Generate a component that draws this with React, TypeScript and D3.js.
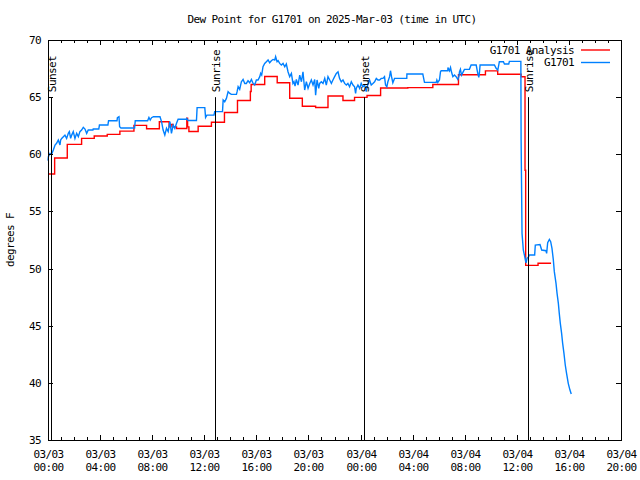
import React from 'react';
import * as d3 from 'd3';

const T0 = Date.UTC(2025, 2, 3, 0, 0, 0);
const hoursToDate = (h: number) => new Date(T0 + h * 3600000);

const chartTitle = 'Dew Point for G1701 on 2025-Mar-03 (time in UTC)';
const yAxisLabel = 'degrees F';
const yTickValues = [35, 40, 45, 50, 55, 60, 65, 70];
const xDomainHours = [0, 44];
const xMajorStepHours = 4;
const seriesNames = ['G1701 Analysis', 'G1701'];
const seriesColors = ['#ff0000', '#0080ff'];
const sunEventHours = [0.25, 12.83, 24.3, 36.83];
const sunEventLabels = ['Sunset', 'Sunrise', 'Sunset', 'Sunrise'];
const sunLineTopValue = 65;

// hourly analysis (step after), [hour since 03/03 00:00 UTC, degF]
const analysisSeries: [number, number][] = [
  [0, 58.27], [0.51, 59.67], [1.48, 60.87], [2.58, 61.39], [3.55, 61.6], [4.55, 61.74],
  [5.52, 62.03], [6.6, 62.53], [7.57, 62.24], [8.55, 62.85], [9.3, 62.4], [9.45, 62.6],
  [9.6, 62.4], [9.87, 62.25], [10.66, 63.15], [10.72, 62.4], [10.82, 62.0], [11.53, 62.45],
  [12.55, 62.8], [13.55, 63.65], [14.55, 64.7], [15.54, 65.5], [15.6, 66.1], [16.64, 66.8],
  [17.6, 66.26], [18.56, 64.9], [19.53, 64.2], [20.55, 64.1], [21.5, 65.1], [22.65, 64.7],
  [23.54, 64.98], [24.5, 65.15], [25.54, 65.8], [27.63, 65.83], [29.55, 66.1], [31.52, 66.96],
  [33.59, 67.3], [34.53, 67.0], [36.33, 66.79], [36.63, 58.6], [36.68, 50.28], [37.63, 50.46],
  [38.63, 50.46],
];

// station observations
const observedSeries: [number, number][] = [
  [0, 59.44], [0.03, 59.8], [0.15, 60.08], [0.28, 60.02], [0.41, 60.37], [0.54, 60.81],
  [0.66, 60.96], [0.79, 61.25], [0.92, 60.81], [0.97, 61.25], [1.05, 61.39], [1.18, 61.54],
  [1.3, 61.68], [1.43, 61.39], [1.56, 61.83], [1.64, 61.98], [1.74, 61.39], [1.82, 61.68],
  [1.94, 61.98], [2.07, 61.39], [2.2, 61.83], [2.33, 61.54], [2.45, 61.98], [2.58, 62.12],
  [2.71, 62.36], [2.84, 62.21], [2.97, 61.83], [3.09, 62.12], [3.45, 62.12], [3.47, 62.21],
  [3.9, 62.21], [3.95, 62.56], [4.6, 62.56], [4.65, 62.94], [5.3, 62.94], [5.33, 63.2],
  [5.45, 63.29], [5.5, 62.41], [5.6, 62.3], [6.65, 62.3], [6.7, 62.94], [7.65, 62.94],
  [7.75, 63.23], [7.85, 63.0], [7.95, 63.2], [8.1, 63.29], [8.6, 63.29], [8.72, 62.85],
  [8.84, 62.12], [8.97, 61.68], [9.1, 62.27], [9.23, 61.98], [9.36, 62.85], [9.48, 61.83],
  [9.61, 62.56], [9.74, 62.27], [9.87, 62.71], [9.99, 63.06], [10.6, 63.06], [10.65, 63.14],
  [10.76, 62.95], [11.4, 62.95], [11.45, 64.08], [12.04, 64.08], [12.1, 63.23], [12.2, 63.43],
  [12.75, 63.43], [12.8, 63.73], [13.4, 63.73], [13.45, 64.75], [13.57, 64.6], [13.7, 64.89],
  [13.83, 65.48], [13.96, 65.33], [14.08, 65.24], [14.47, 65.24], [14.52, 65.48], [14.6, 65.91],
  [14.72, 65.68], [14.85, 66.35], [14.98, 66.55], [15.11, 66.2], [15.23, 66.2], [15.36, 66.44],
  [15.49, 66.26], [15.62, 66.55], [15.75, 66.2], [15.87, 66.06], [16.0, 66.5], [16.13, 66.5],
  [16.26, 66.79], [16.33, 67.08], [16.41, 66.93], [16.51, 67.66], [16.64, 67.95], [16.77, 68.1],
  [16.9, 68.25], [17.02, 68.01], [17.15, 68.19], [17.28, 68.3], [17.41, 68.25], [17.48, 68.54],
  [17.59, 68.1], [17.67, 68.19], [17.79, 67.95], [17.92, 67.81], [18.05, 67.95], [18.18, 67.66],
  [18.3, 67.9], [18.43, 67.22], [18.56, 66.79], [18.69, 67.08], [18.81, 66.2], [18.89, 66.35],
  [18.97, 65.97], [19.07, 66.55], [19.2, 66.06], [19.33, 66.93], [19.46, 66.35], [19.58, 67.22],
  [19.71, 65.62], [19.84, 66.35], [19.97, 65.77], [20.1, 66.2], [20.22, 66.5], [20.35, 66.06],
  [20.48, 66.55], [20.55, 65.18], [20.66, 66.5], [20.79, 65.77], [20.86, 66.2], [20.99, 66.35],
  [21.12, 66.2], [21.25, 66.64], [21.37, 66.06], [21.5, 66.79], [21.63, 66.5], [21.76, 66.2],
  [21.88, 66.5], [22.01, 66.79], [22.14, 67.08], [22.27, 67.22], [22.39, 66.64], [22.52, 66.35],
  [22.65, 66.5], [22.78, 66.2], [22.91, 66.06], [23.03, 66.2], [23.16, 65.91], [23.29, 66.35],
  [23.42, 66.06], [23.54, 65.91], [23.62, 65.33], [23.67, 65.77], [23.8, 66.06], [23.93, 65.77],
  [24.05, 66.2], [24.18, 65.91], [24.31, 66.06], [24.44, 65.48], [24.57, 66.2], [24.69, 66.5],
  [24.82, 66.06], [24.95, 66.2], [25.08, 66.35], [25.21, 66.64], [25.34, 66.5], [25.46, 66.5],
  [25.59, 66.64], [25.72, 66.64], [25.84, 66.79], [25.92, 66.06], [26.02, 65.91], [26.1, 66.35],
  [26.23, 66.79], [26.3, 67.31], [26.38, 66.79], [26.48, 66.26], [26.61, 66.64], [27.55, 66.64],
  [27.56, 67.02], [28.78, 67.02], [28.91, 66.29], [29.81, 66.29], [29.86, 66.5], [29.93, 66.29],
  [30.06, 66.5], [30.14, 67.22], [30.19, 67.31], [30.7, 67.31], [30.71, 67.6], [30.83, 67.31],
  [30.91, 67.6], [30.98, 67.22], [31.09, 66.79], [31.21, 66.93], [31.34, 66.79], [31.47, 66.55],
  [31.55, 66.79], [31.6, 67.22], [31.67, 67.43], [31.75, 66.93], [31.85, 67.14], [31.98, 67.43],
  [32.36, 67.43], [32.49, 67.81], [32.88, 67.81], [33.0, 67.08], [33.08, 66.73], [33.13, 67.14],
  [33.18, 67.81], [34.28, 67.81], [34.41, 67.52], [34.54, 67.37], [34.66, 68.1], [34.97, 68.1],
  [35.05, 67.9], [35.38, 67.9], [35.43, 68.13], [36.31, 68.13], [36.33, 61.25], [36.4, 53.08],
  [36.5, 51.62], [36.58, 51.19], [36.66, 50.75], [36.71, 50.5], [36.79, 50.9], [36.91, 51.04],
  [36.96, 51.19], [37.37, 51.19], [37.42, 52.06], [37.78, 52.1], [37.91, 51.62], [38.24, 51.56],
  [38.29, 51.33], [38.37, 52.26], [38.5, 52.55], [38.6, 52.35], [38.7, 51.77], [38.8, 50.8],
  [38.88, 49.73], [39.01, 48.7], [39.09, 47.83], [39.19, 46.96], [39.26, 46.08], [39.34, 45.21],
  [39.44, 44.33], [39.52, 43.46], [39.62, 42.58], [39.72, 41.56], [39.82, 40.83], [39.95, 39.96],
  [40.08, 39.37], [40.18, 39.02],
];

const W = 640;
const H = 480;
const M = { left: 48, right: 621, top: 40, bottom: 440 };
const FONT = "'DejaVu Sans Mono', monospace";

export default function App() {
  const x = d3
    .scaleUtc()
    .domain([hoursToDate(xDomainHours[0]), hoursToDate(xDomainHours[1])])
    .range([M.left, M.right]);
  const y = d3.scaleLinear().domain([35, 70]).range([M.bottom, M.top]);

  const majorTicks = x.ticks(d3.utcHour.every(xMajorStepHours) as any);
  const minorTicks = x.ticks(d3.utcHour.every(1) as any);
  const fmtDate = d3.utcFormat('%m/%d');
  const fmtTime = d3.utcFormat('%H:%M');

  const redLine = d3
    .line<[number, number]>()
    .x((d) => x(hoursToDate(d[0])))
    .y((d) => y(d[1]))
    .curve(d3.curveStepAfter);
  const blueLine = d3
    .line<[number, number]>()
    .x((d) => x(hoursToDate(d[0])))
    .y((d) => y(d[1]));

  const textProps = { fontFamily: FONT, fontSize: 11, letterSpacing: -0.6, fill: '#000' } as any;

  return (
    <svg
      width={W}
      height={H}
      style={{ position: 'absolute', left: 0, top: 0, background: '#fff' }}
    >
      <rect x={0} y={0} width={W} height={H} fill="#fff" />
      <text {...textProps} x={332} y={19} textAnchor="middle" dominantBaseline="central">
        {chartTitle}
      </text>

      {/* data */}
      <path d={redLine(analysisSeries) || ''} fill="none" stroke={seriesColors[0]} strokeWidth={1.4} />
      <path d={blueLine(observedSeries) || ''} fill="none" stroke={seriesColors[1]} strokeWidth={1.4} />

      {/* sun events */}
      {sunEventHours.map((h, i) => {
        const xx = Math.round(x(hoursToDate(h))) + 0.5;
        const top = y(sunLineTopValue);
        return (
          <g key={'sun' + i}>
            <line x1={xx} x2={xx} y1={M.bottom} y2={top} stroke="#000" strokeWidth={1} />
            <text
              {...textProps}
              transform={`translate(${xx + 1},${top - 5}) rotate(-90)`}
              dominantBaseline="central"
              textAnchor="start"
            >
              {sunEventLabels[i]}
            </text>
          </g>
        );
      })}

      {/* border */}
      <rect
        x={M.left + 0.5}
        y={M.top + 0.5}
        width={M.right - M.left}
        height={M.bottom - M.top}
        fill="none"
        stroke="#000"
        strokeWidth={1}
        shapeRendering="crispEdges"
      />

      {/* x ticks */}
      {minorTicks.map((t, i) => {
        const xx = Math.round(x(t)) + 0.5;
        return (
          <g key={'mn' + i} shapeRendering="crispEdges">
            <line x1={xx} x2={xx} y1={M.bottom} y2={M.bottom - 3} stroke="#000" />
            <line x1={xx} x2={xx} y1={M.top} y2={M.top + 3} stroke="#000" />
          </g>
        );
      })}
      {majorTicks.map((t, i) => {
        const xx = Math.round(x(t)) + 0.5;
        return (
          <g key={'mj' + i}>
            <line x1={xx} x2={xx} y1={M.bottom} y2={M.bottom - 5} stroke="#000" shapeRendering="crispEdges" />
            <line x1={xx} x2={xx} y1={M.top} y2={M.top + 5} stroke="#000" shapeRendering="crispEdges" />
            <text {...textProps} x={xx} y={454} textAnchor="middle" dominantBaseline="central">
              {fmtDate(t)}
            </text>
            <text {...textProps} x={xx} y={467} textAnchor="middle" dominantBaseline="central">
              {fmtTime(t)}
            </text>
          </g>
        );
      })}

      {/* y ticks */}
      {yTickValues.map((v, i) => {
        const yy = Math.round(y(v)) + 0.5;
        return (
          <g key={'yt' + i}>
            <line x1={M.left} x2={M.left + 5} y1={yy} y2={yy} stroke="#000" shapeRendering="crispEdges" />
            <line x1={M.right} x2={M.right - 5} y1={yy} y2={yy} stroke="#000" shapeRendering="crispEdges" />
            <text {...textProps} x={41} y={yy} textAnchor="end" dominantBaseline="central">
              {v}
            </text>
          </g>
        );
      })}

      <text
        {...textProps}
        transform={`translate(10,${(M.top + M.bottom) / 2}) rotate(-90)`}
        textAnchor="middle"
        dominantBaseline="central"
      >
        {yAxisLabel}
      </text>

      {/* legend */}
      {seriesNames.map((name, i) => {
        const ly = 50 + i * 12.5;
        return (
          <g key={'lg' + i}>
            <text {...textProps} x={574} y={ly} textAnchor="end" dominantBaseline="central">
              {name}
            </text>
            <line x1={581} x2={610} y1={ly} y2={ly} stroke={seriesColors[i]} strokeWidth={1.4} />
          </g>
        );
      })}
    </svg>
  );
}
